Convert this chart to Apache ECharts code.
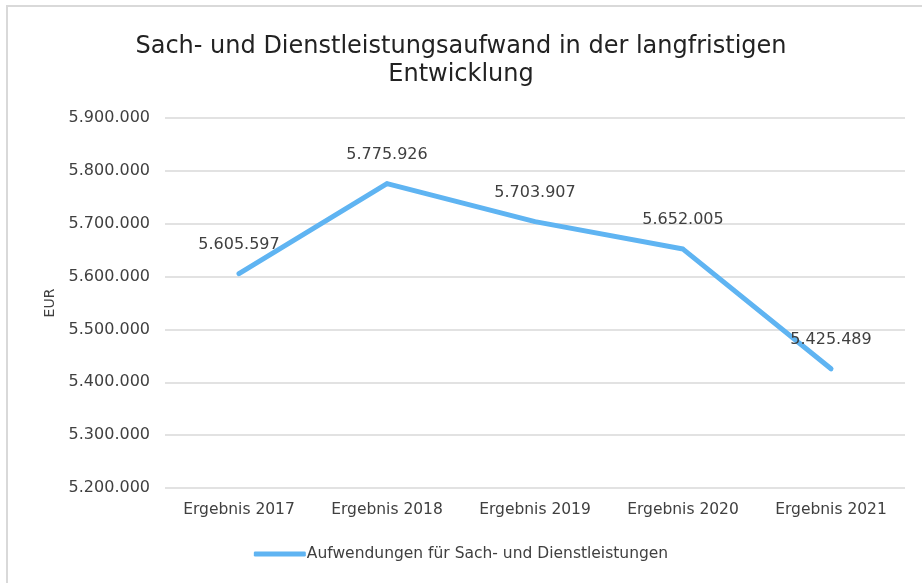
<!DOCTYPE html>
<html>
<head>
<meta charset="utf-8">
<script src="https://cdn.jsdelivr.net/npm/echarts@6/dist/echarts.min.js"></script>
<style>
html,body{margin:0;padding:0;background:#fff;}
#main{width:922px;height:583px;}
</style>
</head>
<body>
<div id="main"></div>
<script>
var categories = ['Ergebnis 2017', 'Ergebnis 2018', 'Ergebnis 2019', 'Ergebnis 2020', 'Ergebnis 2021'];
var values = [5605597, 5775926, 5703907, 5652005, 5425489];
var seriesName = 'Aufwendungen für Sach- und Dienstleistungen';

var fmt = function (v) {
    return String(Math.round(v)).replace(/\B(?=(\d{3})+(?!\d))/g, '.');
};

var chart = echarts.init(document.getElementById('main'));
var txt = '#404040';
var lineColor = '#5fb4f2';
chart.setOption({
    backgroundColor: '#fff',
    animation: false,
    textStyle: { fontFamily: 'DejaVu Sans' },
    graphic: [{
        type: 'rect',
        shape: { x: 7, y: 6, width: 1000, height: 1000 },
        style: { fill: 'none', stroke: '#d9d9d9', lineWidth: 2 }
    }],
    title: {
        text: 'Sach- und Dienstleistungsaufwand in der langfristigen\nEntwicklung',
        left: 'center',
        top: 28,
        textStyle: {
            fontFamily: 'DejaVu Sans',
            fontWeight: 'normal',
            fontSize: 24,
            lineHeight: 28,
            color: '#222'
        }
    },
    grid: { left: 165, right: 17, top: 118, bottom: 95 },
    xAxis: {
        type: 'category',
        data: categories,
        axisLine: { show: false },
        axisTick: { show: false },
        axisLabel: { color: txt, fontSize: 15.5, margin: 14 }
    },
    yAxis: {
        type: 'value',
        name: 'EUR',
        nameLocation: 'middle',
        nameGap: 108,
        nameTextStyle: { color: txt, fontSize: 14 },
        min: 5200000,
        max: 5900000,
        interval: 100000,
        axisLabel: { color: txt, fontSize: 16, margin: 15, formatter: fmt },
        splitLine: { lineStyle: { color: '#d9d9d9', width: 1.5 } }
    },
    legend: {
        bottom: 16,
        left: 'center',
        itemWidth: 52,
        itemHeight: 5,
        itemGap: 10,
        icon: 'roundRect',
        textStyle: { color: txt, fontSize: 15.5, padding: [0, 0, 0, -4] },
        data: [seriesName]
    },
    series: [{
        name: seriesName,
        type: 'line',
        data: values,
        symbol: 'circle',
        symbolSize: 4,
        showSymbol: true,
        lineStyle: { color: lineColor, width: 5, cap: 'round', join: 'round' },
        itemStyle: { color: lineColor },
        label: {
            show: true,
            position: 'top',
            distance: 19,
            color: txt,
            fontSize: 16,
            formatter: function (p) { return fmt(p.value); }
        }
    }]
});
</script>
</body>
</html>
